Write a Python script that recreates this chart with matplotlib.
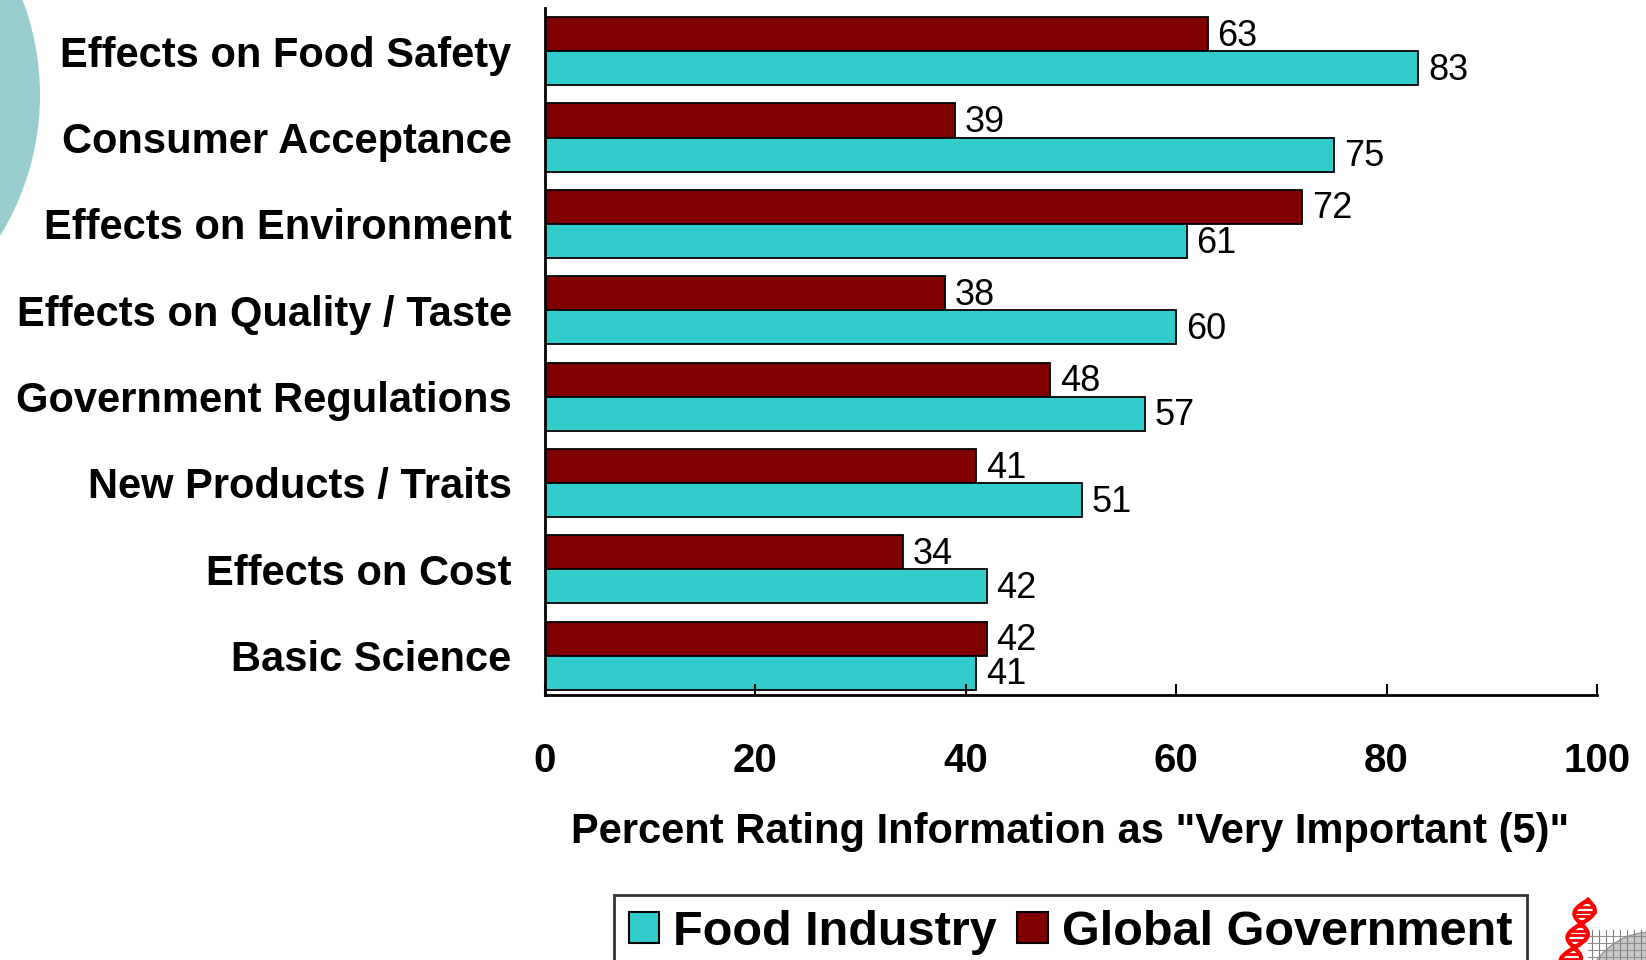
import matplotlib
matplotlib.use("Agg")
import matplotlib.pyplot as plt
import numpy as np
from matplotlib.patches import Circle, Patch

plt.rcParams['font.family'] = ['Liberation Sans', 'DejaVu Sans']

categories = ["Effects on Food Safety", "Consumer Acceptance", "Effects on Environment",
              "Effects on Quality / Taste", "Government Regulations", "New Products / Traits",
              "Effects on Cost", "Basic Science"]
food_industry = [83, 75, 61, 60, 57, 51, 42, 41]
global_government = [63, 39, 72, 38, 48, 41, 34, 42]
xticks = [0, 20, 40, 60, 80, 100]

CYAN = "#33CCCC"
CRIMSON = "#800000"

W, H = 1646, 960
fig = plt.figure(figsize=(W / 100, H / 100), dpi=100)

# background layer in pixel units for the decorative circle
bg = fig.add_axes([0, 0, 1, 1], zorder=-1)
bg.set_xlim(0, W)
bg.set_ylim(H, 0)
bg.axis("off")
bg.add_patch(Circle((-228, 95), 268, color="#99CCCC", lw=0))

ax = fig.add_axes([545 / W, 1 - 695 / H, (1597 - 545) / W, (695 - 8) / H])
y = np.arange(len(categories))
h = 0.395
ax.barh(y - h / 2, global_government, height=h, color=CRIMSON, edgecolor="black", linewidth=1.3)
ax.barh(y + h / 2, food_industry, height=h, color=CYAN, edgecolor="black", linewidth=1.3)

for yi, g, f in zip(y, global_government, food_industry):
    ax.annotate(str(g), (g, yi - h / 2), xytext=(7, -1.5), textcoords="offset points",
                va="center", ha="left", fontsize=26)
    ax.annotate(str(f), (f, yi + h / 2), xytext=(7, -1.5), textcoords="offset points",
                va="center", ha="left", fontsize=26)

ax.set_xlim(0, 100)
ax.set_ylim(len(categories) - 1 + h + 0.06, -0.5)
ax.set_yticks(y)
ax.set_yticklabels(categories, fontsize=30, fontweight="bold")
ax.tick_params(axis="y", length=0, pad=24)
ax.set_xticks(xticks)
ax.set_xticklabels([str(t) for t in xticks], fontsize=29, fontweight="bold")
ax.tick_params(axis="x", direction="in", length=8, width=1.5, pad=34)
for s in ("top", "right"):
    ax.spines[s].set_visible(False)
for s in ("left", "bottom"):
    ax.spines[s].set_linewidth(2)

fig.text(1070 / W, 1 - 832 / H, 'Percent Rating Information as "Very Important (5)"',
         ha="center", va="center", fontsize=30, fontweight="bold")

handles = [Patch(facecolor=CYAN, edgecolor="black", linewidth=1.5),
           Patch(facecolor=CRIMSON, edgecolor="black", linewidth=1.5)]
leg = fig.legend(handles, ["Food Industry", "Global Government"], loc="upper left",
                 bbox_to_anchor=(614 / W, 1 - 895 / H), ncol=2, frameon=True, fancybox=False,
                 prop={"size": 35, "weight": "bold"}, handlelength=0.62, handleheight=0.62,
                 handletextpad=0.3, columnspacing=0.42, borderpad=0.3, borderaxespad=0)
leg.get_frame().set_edgecolor("black")
leg.get_frame().set_linewidth(2)

# helix and globe emblem in the corner
logo = fig.add_axes([1540 / W, 0, 106 / W, 70 / H])
logo.set_xlim(1540, 1646)
logo.set_ylim(960, 890)
logo.axis("off")
logo.add_patch(Circle((1652, 1000), 68, facecolor="#C8C8C8", edgecolor="#999999", lw=1))
for gx in range(1592, 1646, 7):
    logo.plot([gx, gx], [930, 960], color="#808080", lw=0.8)
for gy in range(936, 960, 7):
    logo.plot([1588, 1646], [gy, gy], color="#909090", lw=0.8)
t = np.linspace(0, 1, 80)
xa = 1570 + 10 * np.sin(t * 2 * np.pi * 1.3) + 18 * (1 - t)
xb = 1570 - 10 * np.sin(t * 2 * np.pi * 1.3) + 18 * (1 - t)
yy = 900 + 62 * t
logo.plot(xa, yy, color="red", lw=3)
logo.plot(xb, yy, color="red", lw=3)
for k in range(3, 78, 6):
    logo.plot([xa[k], xb[k]], [yy[k], yy[k]], color="red", lw=2)

fig.savefig("out.png", dpi=100)
